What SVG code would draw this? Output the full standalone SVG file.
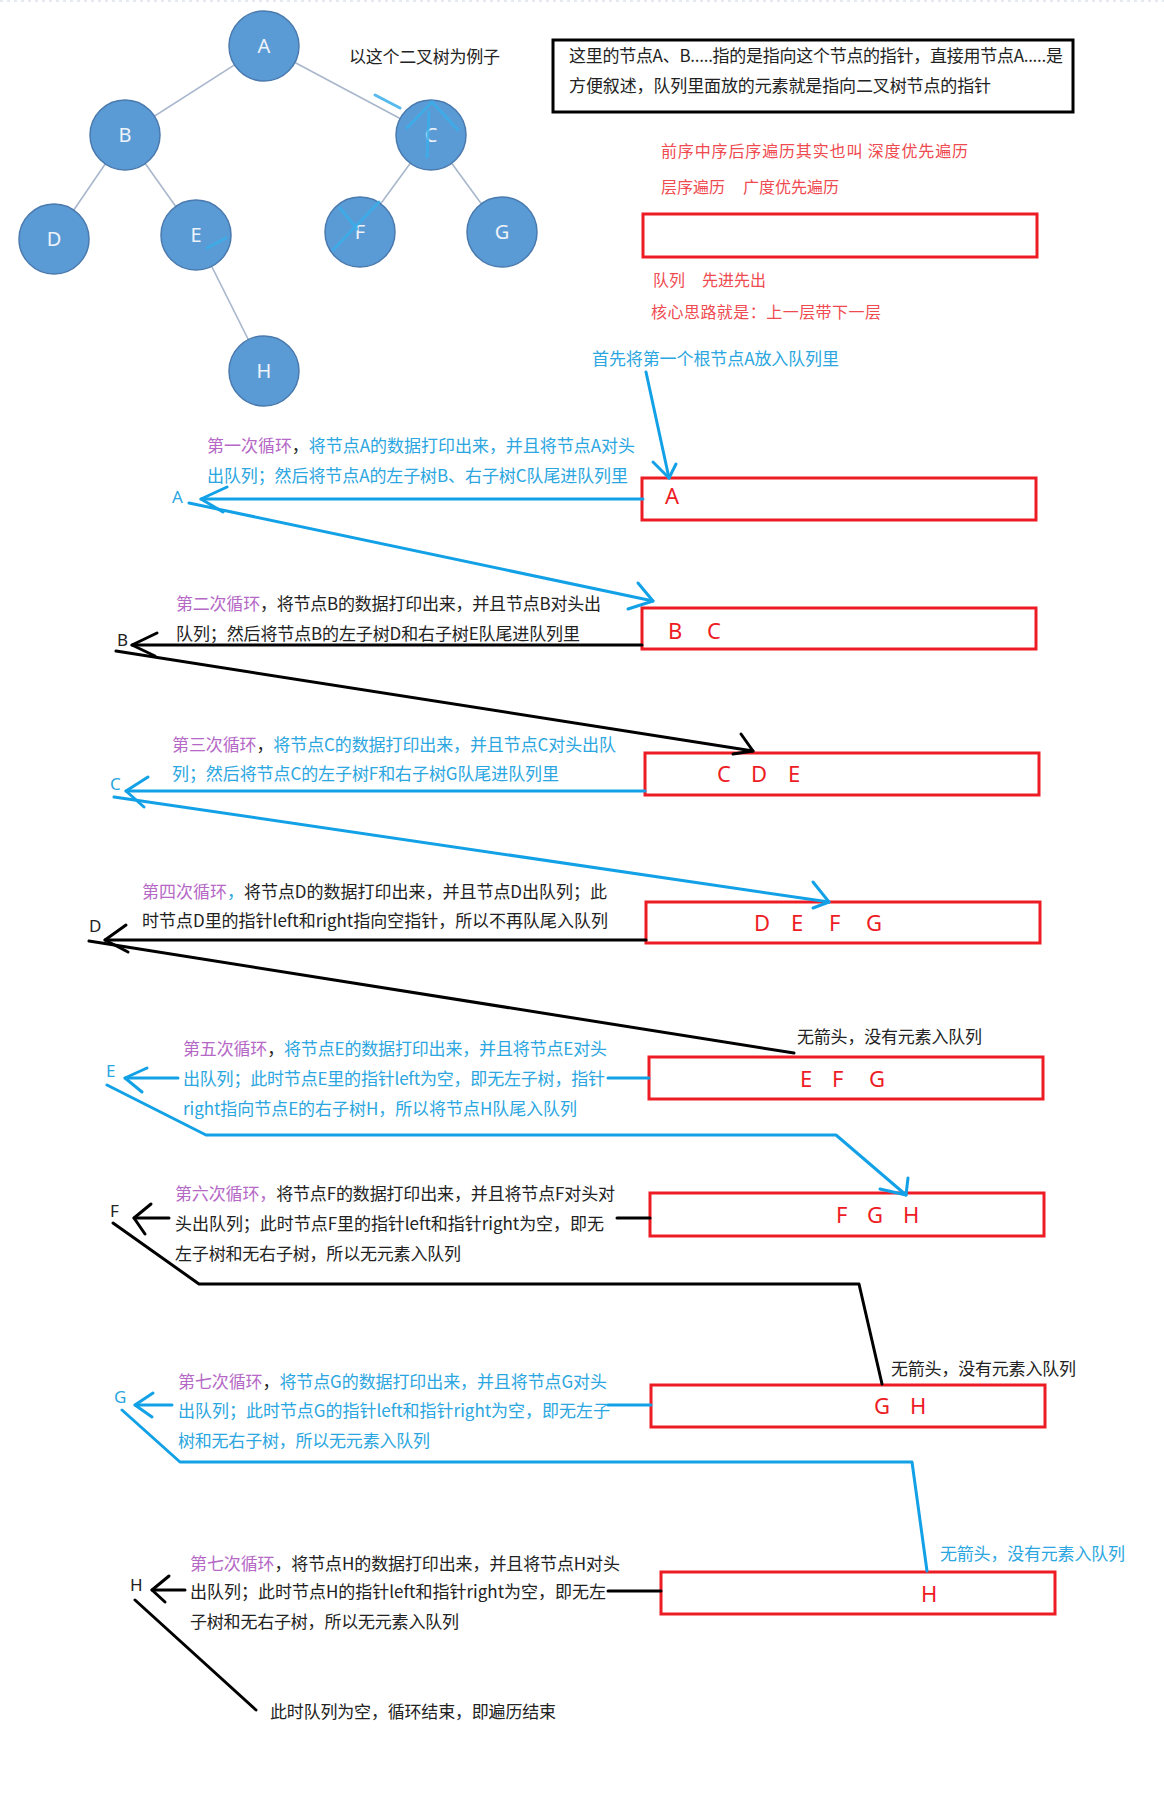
<svg xmlns="http://www.w3.org/2000/svg" width="1164" height="1812" viewBox="0 0 1164 1812">
<style>
.bg{fill:#ffffff}
.tn circle{fill:#5B9BD5;stroke:#4A7AAE;stroke-width:1.5}
.tn text{font-family:"Noto Sans","Liberation Sans",sans-serif;font-size:20px;fill:#EEF3FA;text-anchor:middle}
.te{stroke:#A9B7CC;stroke-width:1.6;fill:none}
.scr{stroke:#3AAEEA;stroke-width:3;fill:none;stroke-linecap:round;opacity:0.85}
.t{font-family:"Noto Sans CJK SC","Noto Sans",sans-serif;font-size:17px;fill:#222}
.red{font-family:"Noto Sans CJK SC","Noto Sans",sans-serif;font-size:16px;fill:#EF4A4F}
.blu{fill:#2BA6E0}
.pur{fill:#B568C6}
.blk{fill:#222}
.q{font-family:"Noto Sans","Liberation Sans",sans-serif;font-size:22px;fill:#ED1C24}
.qb{fill:none;stroke:#ED1C24;stroke-width:3}
.lbl{font-family:"Noto Sans","Liberation Sans",sans-serif;font-size:17px}
.cb{stroke:#12A1E6;stroke-width:3;fill:none;stroke-linecap:round;stroke-linejoin:round}
.ck{stroke:#000;stroke-width:3;fill:none;stroke-linecap:round;stroke-linejoin:round}
</style>
<rect class="bg" x="0" y="0" width="1164" height="1812"/>
<line x1="0" y1="1" x2="1164" y2="1" stroke="#C8D4E0" stroke-width="1" stroke-dasharray="3,4"/>

<!-- binary tree -->
<g id="tree-edges">
<line class="te" x1="264" y1="46" x2="125" y2="135"/>
<line class="te" x1="264" y1="46" x2="431" y2="135"/>
<line class="te" x1="125" y1="135" x2="54" y2="239"/>
<line class="te" x1="125" y1="135" x2="196" y2="235"/>
<line class="te" x1="431" y1="135" x2="360" y2="232"/>
<line class="te" x1="431" y1="135" x2="502" y2="232"/>
<line class="te" x1="196" y1="235" x2="264" y2="371"/>
</g>
<g id="tree-A" class="tn"><circle cx="264" cy="46" r="35"/><text x="264" y="53">A</text></g>
<g id="tree-B" class="tn"><circle cx="125" cy="135" r="35"/><text x="125" y="142">B</text></g>
<g id="tree-C" class="tn"><circle cx="431" cy="135" r="35"/><text x="431" y="142">C</text></g>
<g id="tree-D" class="tn"><circle cx="54" cy="239" r="35"/><text x="54" y="246">D</text></g>
<g id="tree-E" class="tn"><circle cx="196" cy="235" r="35"/><text x="196" y="242">E</text></g>
<g id="tree-F" class="tn"><circle cx="360" cy="232" r="35"/><text x="360" y="239">F</text></g>
<g id="tree-G" class="tn"><circle cx="502" cy="232" r="35"/><text x="502" y="239">G</text></g>
<g id="tree-H" class="tn"><circle cx="264" cy="371" r="35"/><text x="264" y="378">H</text></g>
<g id="tree-scribbles">
<path class="scr" d="M375,95 L400,108"/>
<path class="scr" d="M407,128 L432,102 L458,130"/>
<path class="scr" d="M427,157 L429,112"/>
<path class="scr" d="M379,202 L333,250"/>
<path class="scr" d="M340,208 L357,229"/>
<path class="scr" d="M207,248 L226,238"/>
</g>

<!-- notes -->
<g id="note-example"><text class="t" x="349" y="63" textLength="151">以这个二叉树为例子</text></g>
<g id="note-box">
<rect x="553" y="40" width="520" height="72" fill="none" stroke="#000" stroke-width="3"/>
<text class="t" x="569" y="62" textLength="494">这里的节点A、B.....指的是指向这个节点的指针，直接用节点A.....是</text>
<text class="t" x="569" y="92" textLength="422">方便叙述，队列里面放的元素就是指向二叉树节点的指针</text>
</g>
<g id="note-red">
<text class="red" x="661" y="157" textLength="307">前序中序后序遍历其实也叫 深度优先遍历</text>
<text class="red" x="661" y="193">层序遍历</text>
<text class="red" x="743" y="193">广度优先遍历</text>
<rect class="qb" x="643" y="214" width="394" height="43"/>
<text class="red" x="653" y="286">队列</text>
<text class="red" x="702" y="286">先进先出</text>
<text class="red" x="651" y="318" textLength="230">核心思路就是：上一层带下一层</text>
</g>
<g id="note-first"><text class="t blu" x="592" y="365" textLength="247">首先将第一个根节点A放入队列里</text></g>

<!-- queue states -->
<g id="q1"><rect class="qb" x="642" y="478" width="394" height="42"/><text class="q" x="665" y="504">A</text></g>
<g id="q2"><rect class="qb" x="642" y="608" width="394" height="41"/><text class="q" x="668" y="639">B</text><text class="q" x="707" y="639">C</text></g>
<g id="q3"><rect class="qb" x="645" y="753" width="394" height="42"/><text class="q" x="717" y="782">C</text><text class="q" x="751" y="782">D</text><text class="q" x="788" y="782">E</text></g>
<g id="q4"><rect class="qb" x="646" y="902" width="394" height="41"/><text class="q" x="754" y="931">D</text><text class="q" x="791" y="931">E</text><text class="q" x="829" y="931">F</text><text class="q" x="866" y="931">G</text></g>
<g id="q5"><rect class="qb" x="649" y="1057" width="394" height="42"/><text class="q" x="800" y="1087">E</text><text class="q" x="832" y="1087">F</text><text class="q" x="869" y="1087">G</text></g>
<g id="q6"><rect class="qb" x="650" y="1193" width="394" height="43"/><text class="q" x="836" y="1223">F</text><text class="q" x="867" y="1223">G</text><text class="q" x="903" y="1223">H</text></g>
<g id="q7"><rect class="qb" x="651" y="1385" width="394" height="42"/><text class="q" x="874" y="1414">G</text><text class="q" x="910" y="1414">H</text></g>
<g id="q8"><rect class="qb" x="661" y="1572" width="394" height="42"/><text class="q" x="921" y="1602">H</text></g>

<!-- connectors -->
<g id="connectors">
<path class="cb" d="M646,372 L669,478"/><path class="cb" d="M653,462 L669,478 L676,464"/>
<path class="cb" d="M643,499 H201"/><path class="cb" d="M227,487 L201,499 L223,512"/>
<path class="cb" d="M189,503 L653,601"/><path class="cb" d="M638,583 L653,601 L628,609"/>
<path class="ck" d="M642,645 H132"/><path class="ck" d="M157,633 L132,645 L155,656"/>
<path class="ck" d="M116,651 L753,751"/><path class="ck" d="M741,734 L753,751 L733,754"/>
<path class="cb" d="M645,791 H126"/><path class="cb" d="M148,777 L126,791 L144,807"/>
<path class="cb" d="M114,797 L829,902"/><path class="cb" d="M813,882 L829,902 L813,908"/>
<path class="ck" d="M646,940 H105"/><path class="ck" d="M126,925 L105,940 L128,952"/>
<path class="ck" d="M89,941 L794,1053"/>
<path class="cb" d="M178,1078 H125"/><path class="cb" d="M147,1068 L125,1078 L142,1092"/><path class="cb" d="M608,1078 H649"/>
<path class="cb" d="M107,1085 L206,1135 H836 L906,1195"/><path class="cb" d="M880,1189 L906,1195 L908,1178"/>
<path class="ck" d="M169,1218 H134"/><path class="ck" d="M151,1204 L134,1218 L145,1234"/><path class="ck" d="M617,1218 H650"/>
<path class="ck" d="M113,1223 L199,1284 H859 L882,1384"/>
<path class="cb" d="M172,1405 H135"/><path class="cb" d="M153,1393 L135,1405 L152,1417"/><path class="cb" d="M608,1405 H651"/>
<path class="cb" d="M122,1410 L180,1462 H912 L927,1571"/>
<path class="ck" d="M185,1590 H152"/><path class="ck" d="M169,1576 L152,1590 L165,1602"/><path class="ck" d="M608,1591 H661"/>
<path class="ck" d="M135,1600 L256,1710"/>
</g>

<!-- arrow tip labels -->
<g id="labels">
<text class="lbl blu" x="172" y="503">A</text>
<text class="lbl blk" x="117" y="646">B</text>
<text class="lbl blu" x="110" y="790">C</text>
<text class="lbl blk" x="89" y="932">D</text>
<text class="lbl blu" x="106" y="1077">E</text>
<text class="lbl blk" x="110" y="1217">F</text>
<text class="lbl blu" x="114" y="1403">G</text>
<text class="lbl blk" x="130" y="1591">H</text>
</g>

<!-- loop texts -->
<g id="loop1">
<text class="t" x="207" y="452" textLength="428"><tspan class="pur">第一次循环</tspan><tspan class="blk">，</tspan><tspan class="blu">将节点A的数据打印出来，并且将节点A对头</tspan></text>
<text class="t blu" x="207" y="482" textLength="421">出队列；然后将节点A的左子树B、右子树C队尾进队列里</text>
</g>
<g id="loop2">
<text class="t" x="176" y="610" textLength="425"><tspan class="pur">第二次循环</tspan>，将节点B的数据打印出来，并且节点B对头出</text>
<text class="t" x="176" y="640" textLength="404">队列；然后将节点B的左子树D和右子树E队尾进队列里</text>
</g>
<g id="loop3">
<text class="t" x="172" y="751" textLength="444"><tspan class="pur">第三次循环</tspan><tspan class="blk">，</tspan><tspan class="blu">将节点C的数据打印出来，并且节点C对头出队</tspan></text>
<text class="t blu" x="172" y="780" textLength="387">列；然后将节点C的左子树F和右子树G队尾进队列里</text>
</g>
<g id="loop4">
<text class="t" x="142" y="898" textLength="465"><tspan class="pur">第四次循环</tspan><tspan class="blu">，</tspan>将节点D的数据打印出来，并且节点D出队列；此</text>
<text class="t" x="142" y="927" textLength="466">时节点D里的指针left和right指向空指针，所以不再队尾入队列</text>
</g>
<g id="note-noarrow1"><text class="t" x="797" y="1043" textLength="185">无箭头，没有元素入队列</text></g>
<g id="loop5">
<text class="t" x="183" y="1055" textLength="424"><tspan class="pur">第五次循环</tspan><tspan class="blk">，</tspan><tspan class="blu">将节点E的数据打印出来，并且将节点E对头</tspan></text>
<text class="t blu" x="183" y="1085" textLength="422">出队列；此时节点E里的指针left为空，即无左子树，指针</text>
<text class="t blu" x="183" y="1115" textLength="394">right指向节点E的右子树H，所以将节点H队尾入队列</text>
</g>
<g id="loop6">
<text class="t" x="175" y="1200" textLength="440"><tspan class="pur">第六次循环，</tspan>将节点F的数据打印出来，并且将节点F对头对</text>
<text class="t" x="175" y="1230" textLength="429">头出队列；此时节点F里的指针left和指针right为空，即无</text>
<text class="t" x="175" y="1260" textLength="286">左子树和无右子树，所以无元素入队列</text>
</g>
<g id="note-noarrow2"><text class="t" x="891" y="1375" textLength="185">无箭头，没有元素入队列</text></g>
<g id="loop7">
<text class="t" x="178" y="1388" textLength="429"><tspan class="pur">第七次循环</tspan><tspan class="blk">，</tspan><tspan class="blu">将节点G的数据打印出来，并且将节点G对头</tspan></text>
<text class="t blu" x="178" y="1417" textLength="432">出队列；此时节点G的指针left和指针right为空，即无左子</text>
<text class="t blu" x="178" y="1447" textLength="252">树和无右子树，所以无元素入队列</text>
</g>
<g id="note-noarrow3"><text class="t blu" x="940" y="1560" textLength="185">无箭头，没有元素入队列</text></g>
<g id="loop8">
<text class="t" x="190" y="1570" textLength="430"><tspan class="pur">第七次循环</tspan>，将节点H的数据打印出来，并且将节点H对头</text>
<text class="t" x="190" y="1598" textLength="416">出队列；此时节点H的指针left和指针right为空，即无左</text>
<text class="t" x="190" y="1628" textLength="269">子树和无右子树，所以无元素入队列</text>
</g>
<g id="note-end"><text class="t" x="270" y="1718" textLength="286">此时队列为空，循环结束，即遍历结束</text></g>
</svg>
